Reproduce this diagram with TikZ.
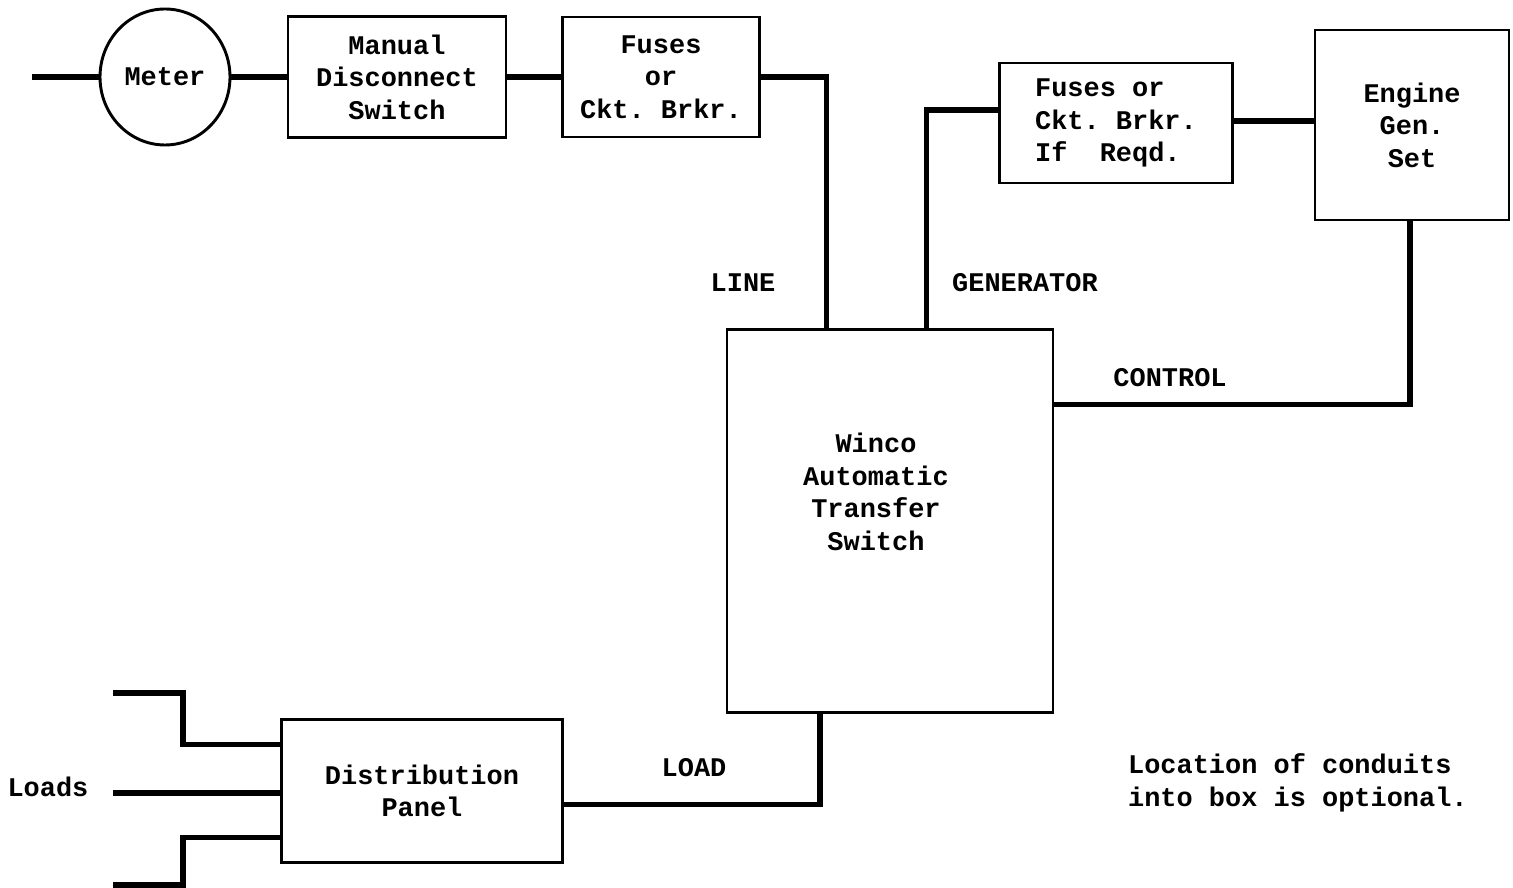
\documentclass[tikz,border=0pt]{standalone}
\usepackage{fontspec}
\setmonofont{Liberation Mono}
\usetikzlibrary{shapes.geometric}
\begin{document}
\begin{tikzpicture}[x=0.3mm, y=-0.3mm,
    every node/.style={font=\ttfamily\bfseries\fontsize{23}{27.7}\selectfont},
    box/.style={draw, line width=2.5pt, rectangle, inner sep=0pt, align=center},
    wire/.style={line width=4.4pt},
    note/.style={align=left}]
  \useasboundingbox (0,0) rectangle (1513,888);
  \node[draw, ellipse, line width=2.5pt, minimum width=39mm, minimum height=40.8mm, inner sep=0pt] (meter) at (165,77) {Meter};
  \node[box, minimum width=65.4mm, minimum height=36.3mm] (switch) at (397,77) {Manual\\Disconnect\\Switch};
  \node[box, minimum width=59.1mm, minimum height=36mm] (fuse) at (661,77) {Fuses\\or\\Ckt. Brkr.};
  \node[box, minimum width=97.8mm, minimum height=114.9mm] (ats) at (890,521) {};
  \node[align=center] (atstext) at (876,492) {Winco\\Automatic\\Transfer\\Switch};
  \node[box, align=left, minimum width=69.9mm, minimum height=36mm] (genfuse) at (1116,123) {Fuses or\\Ckt. Brkr.\\If\ \ Reqd.};
  \node[box, minimum width=58.2mm, minimum height=57mm] (engine) at (1412,125) {Engine\\Gen.\\Set};
  \node[box, minimum width=84.3mm, minimum height=42.9mm] (panel) at (422,791) {Distribution\\Panel};
  \coordinate (feed) at (32,77);
  \coordinate (loadA) at (113,693);
  \coordinate (loadB) at (113,793);
  \coordinate (loadC) at (113,885);
  \draw[wire] (feed) -- (meter.west);
  \draw[wire] (meter.east) -- (switch.west);
  \draw[wire] (switch.east) -- (fuse.west);
  \draw[wire] (fuse.east) -| ([xshift=30.3mm]ats.north west);
  \draw[wire] ([yshift=3.9mm]genfuse.west) -| ([xshift=60.3mm]ats.north west);
  \draw[wire] ([yshift=0.6mm]genfuse.east) -- ([yshift=0.6mm]genfuse.east -| engine.west);
  \draw[wire] ([xshift=-0.6mm]engine.south) |- ([yshift=35mm]ats.east);
  \draw[wire] ([xshift=-21mm]ats.south) |- ([yshift=-4mm]panel.east);
  \draw[wire] (loadA) -- ++(70,0) |- ([yshift=14mm]panel.west);
  \draw[wire] (loadB) -- (loadB -| panel.west);
  \draw[wire] (loadC) -- ++(70,0) |- ([yshift=-14mm]panel.west);
  \node (loads) at (48,787) {Loads};
  \node (linelbl) at (743,283) {LINE};
  \node (genlbl) at (1025,283) {GENERATOR};
  \node (ctrllbl) at (1170,378) {CONTROL};
  \node (loadlbl) at (694,768) {LOAD};
  \node[note, anchor=west] (conduits) at (1124,783) {Location of conduits\\into box is optional.};
\end{tikzpicture}
\end{document}
